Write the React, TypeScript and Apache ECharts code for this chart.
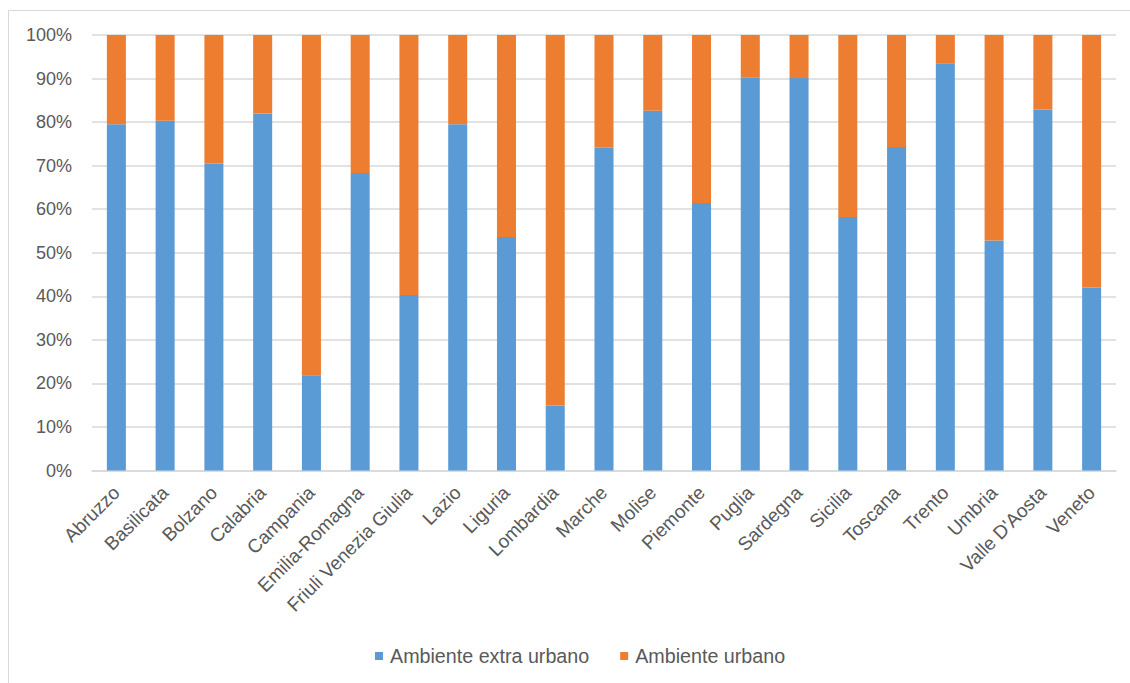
import React, { useEffect, useRef } from "react";
import * as echarts from "echarts";

const categories = [
  "Abruzzo", "Basilicata", "Bolzano", "Calabria", "Campania", "Emilia-Romagna",
  "Friuli Venezia Giulia", "Lazio", "Liguria", "Lombardia", "Marche", "Molise",
  "Piemonte", "Puglia", "Sardegna", "Sicilia", "Toscana", "Trento", "Umbria",
  "Valle D'Aosta", "Veneto",
];

const extraUrbano = [
  79.5, 80.3, 70.5, 82.0, 21.9, 68.3, 40.3, 79.5, 53.6, 14.9, 74.1, 82.6,
  61.4, 90.3, 90.1, 58.2, 74.3, 93.5, 52.8, 82.9, 42.0,
];

const urbano = [
  20.5, 19.7, 29.5, 18.0, 78.1, 31.7, 59.7, 20.5, 46.4, 85.1, 25.9, 17.4,
  38.6, 9.7, 9.9, 41.8, 25.7, 6.5, 47.2, 17.1, 58.0,
];

const seriesNames = ["Ambiente extra urbano", "Ambiente urbano"];

const FONT = "'Liberation Sans', Arial, sans-serif";
const TEXT = "#595959";

export default function App() {
  const ref = useRef<HTMLDivElement>(null);

  useEffect(() => {
    document.body.style.margin = "0";
    if (!ref.current) return;
    const chart = echarts.init(ref.current, null, { renderer: "svg" });
    chart.setOption({
      animation: false,
      backgroundColor: "#ffffff",
      textStyle: { fontFamily: FONT },
      graphic: [
        {
          type: "rect",
          shape: { x: 8.5, y: 10.5, width: 1200, height: 800 },
          style: { fill: "none", stroke: "#d9d9d9", lineWidth: 1 },
          silent: true,
          z: -1,
        },
      ],
      grid: { left: 92, right: 14, top: 35, bottom: 212.5 },
      legend: {
        bottom: 12,
        left: 370,
        icon: "rect",
        itemWidth: 8,
        itemHeight: 8,
        itemGap: 31,
        textStyle: {
          color: TEXT,
          fontSize: 19.7,
          fontFamily: FONT,
          padding: [0, 0, 0, 2],
        },
        data: seriesNames,
      },
      xAxis: {
        type: "category",
        data: categories,
        axisLine: { show: true, lineStyle: { color: "#d9d9d9", width: 1.5 } },
        axisTick: { show: false },
        axisLabel: {
          rotate: 45,
          interval: 0,
          margin: 19,
          color: TEXT,
          fontSize: 19,
          fontFamily: FONT,
        },
      },
      yAxis: {
        type: "value",
        min: 0,
        max: 100,
        interval: 10,
        axisLine: { show: false },
        axisTick: { show: false },
        axisLabel: {
          formatter: "{value}%",
          color: TEXT,
          fontSize: 18,
          margin: 20,
          fontFamily: FONT,
        },
        splitLine: { lineStyle: { color: "#d9d9d9", width: 1.5 } },
      },
      series: [
        {
          name: seriesNames[0],
          type: "bar",
          stack: "total",
          data: extraUrbano,
          barWidth: "39%",
          itemStyle: { color: "#5B9BD5" },
        },
        {
          name: seriesNames[1],
          type: "bar",
          stack: "total",
          data: urbano,
          barWidth: "39%",
          itemStyle: { color: "#ED7D31" },
        },
      ],
    });
    return () => chart.dispose();
  }, []);

  return <div ref={ref} style={{ width: 1130, height: 683 }} />;
}
